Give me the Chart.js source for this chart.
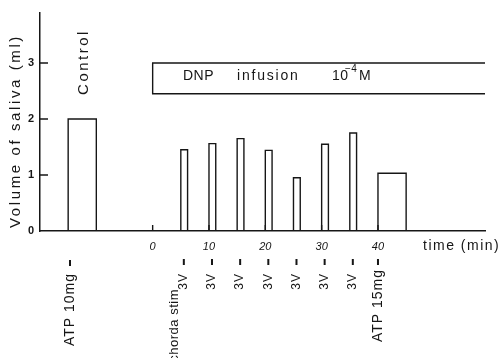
<!DOCTYPE html>
<html>
<head>
<meta charset="utf-8">
<script src="https://cdn.jsdelivr.net/npm/chart.js@4/dist/chart.umd.min.js"></script>
<style>
  html, body { margin: 0; padding: 0; background: #fff; }
</style>
</head>
<body>
<canvas id="salivaChart" width="502" height="358"></canvas>
<script>
// open bars: start / end time (min) and volume of saliva (ml)
const barStart = [-15, 5, 10, 15, 20, 25, 30, 35, 40];
const barEnd = [-10, 6.2, 11.2, 16.2, 21.2, 26.2, 31.2, 36.2, 45];
const salivaVolume = [2.0, 1.45, 1.56, 1.65, 1.44, 0.95, 1.55, 1.75, 1.03];

// chorda stimulation times (3V)
const stimTimes = [5, 10, 15, 20, 25, 30, 35];

// DNP infusion band: [start, end] in min, [low, high] in ml
const dnpTime = [0, 59];
const dnpLevel = [2.45, 3.0];

const xTicks = [0, 10, 20, 30, 40];
const yTicks = [0, 1, 2, 3];

const INK = '#161616';
const FONT = '"Liberation Sans", Arial, sans-serif';

const datasets = barStart.map((s, i) => ({
  data: [
    { x: s, y: 0 },
    { x: s, y: salivaVolume[i] },
    { x: barEnd[i], y: salivaVolume[i] },
    { x: barEnd[i], y: 0 }
  ]
}));
datasets.push({
  data: [
    { x: dnpTime[1], y: dnpLevel[1] },
    { x: dnpTime[0], y: dnpLevel[1] },
    { x: dnpTime[0], y: dnpLevel[0] },
    { x: dnpTime[1], y: dnpLevel[0] }
  ]
});
datasets.forEach(d => {
  d.showLine = true;
  d.borderColor = INK;
  d.borderWidth = 1.4;
  d.pointRadius = 0;
  d.tension = 0;
  d.fill = false;
});

function rotText(ctx, txt, x, y, align, font, spacing) {
  ctx.save();
  ctx.translate(x, y);
  ctx.rotate(-Math.PI / 2);
  ctx.font = font;
  ctx.letterSpacing = spacing || '0px';
  ctx.textAlign = align;
  ctx.textBaseline = 'middle';
  ctx.fillText(txt, 0, 0);
  ctx.restore();
}

const annotations = {
  id: 'annotations',
  afterDraw(chart) {
    const ctx = chart.ctx;
    const xs = chart.scales.x, ys = chart.scales.y;
    const y0 = ys.getPixelForValue(0);
    ctx.save();
    ctx.fillStyle = INK;
    ctx.strokeStyle = INK;
    ctx.lineWidth = 1.4;

    // inward tick marks
    ctx.beginPath();
    xTicks.forEach(v => {
      const px = xs.getPixelForValue(v);
      ctx.moveTo(px, y0);
      ctx.lineTo(px, y0 - 6);
    });
    yTicks.slice(1).forEach(v => {
      const py = ys.getPixelForValue(v);
      ctx.moveTo(xs.left, py);
      ctx.lineTo(xs.left + 8, py);
    });
    ctx.stroke();

    // axis titles
    rotText(ctx, 'Volume of saliva (ml)', 16, 131, 'center', '15px ' + FONT, '2.6px');
    ctx.font = '14px ' + FONT;
    ctx.letterSpacing = '1.5px';
    ctx.textAlign = 'left';
    ctx.textBaseline = 'middle';
    ctx.fillText('time (min)', 423, 246);

    // Control label
    rotText(ctx, 'Control', 84, 62, 'center', '15px ' + FONT, '2.5px');

    // DNP infusion label
    ctx.font = '14px ' + FONT;
    ctx.letterSpacing = '0.5px';
    ctx.fillText('DNP', 183, 76);
    ctx.letterSpacing = '1.8px';
    ctx.fillText('infusion', 237, 76);
    ctx.letterSpacing = '0.5px';
    ctx.fillText('10', 332, 76);
    ctx.font = '10px ' + FONT;
    ctx.fillText('\u22124', 345, 69);
    ctx.font = '14px ' + FONT;
    ctx.fillText('M', 359, 76);

    // labels under the time axis
    const mark = (px, top) => ctx.fillRect(px - 1, top, 2, 6);
    rotText(ctx, 'ATP 10mg', 70, 273, 'right', '14px ' + FONT, '1px');
    mark(70, 260);
    rotText(ctx, 'chorda stim', 174, 289, 'right', '13px ' + FONT, '0.5px');
    stimTimes.forEach(t => {
      const px = xs.getPixelForValue(t) + 3;
      rotText(ctx, '3V', px, 273, 'right', '12px ' + FONT, '1px');
      mark(px, 259);
    });
    const px40 = xs.getPixelForValue(40);
    rotText(ctx, 'ATP 15mg', px40, 269, 'right', '14px ' + FONT, '1px');
    mark(px40, 259);

    ctx.restore();
  }
};

new Chart(document.getElementById('salivaChart'), {
  type: 'scatter',
  data: { datasets },
  options: {
    responsive: false,
    animation: false,
    layout: { padding: { left: 28, top: 10, right: 17, bottom: 105 } },
    plugins: { legend: { display: false }, tooltip: { enabled: false } },
    scales: {
      x: {
        type: 'linear',
        min: -20,
        max: 59,
        afterBuildTicks: s => { s.ticks = xTicks.map(v => ({ value: v })); },
        afterFit: s => { s.height = 22; },
        grid: { display: true, drawOnChartArea: false, drawTicks: false },
        border: { display: true, color: INK, width: 1.5 },
        ticks: { padding: 9, color: INK, font: { family: FONT, size: 11, style: 'italic' } }
      },
      y: {
        type: 'linear',
        min: 0,
        max: 3.9,
        afterBuildTicks: s => { s.ticks = yTicks.map(v => ({ value: v })); },
        afterFit: s => { s.width = 12; },
        grid: { display: true, drawOnChartArea: false, drawTicks: false },
        border: { display: true, color: INK, width: 1.5 },
        ticks: { padding: 6, color: INK, font: { family: FONT, size: 11, weight: 'bold' } }
      }
    }
  },
  plugins: [annotations]
});
</script>
</body>
</html>
